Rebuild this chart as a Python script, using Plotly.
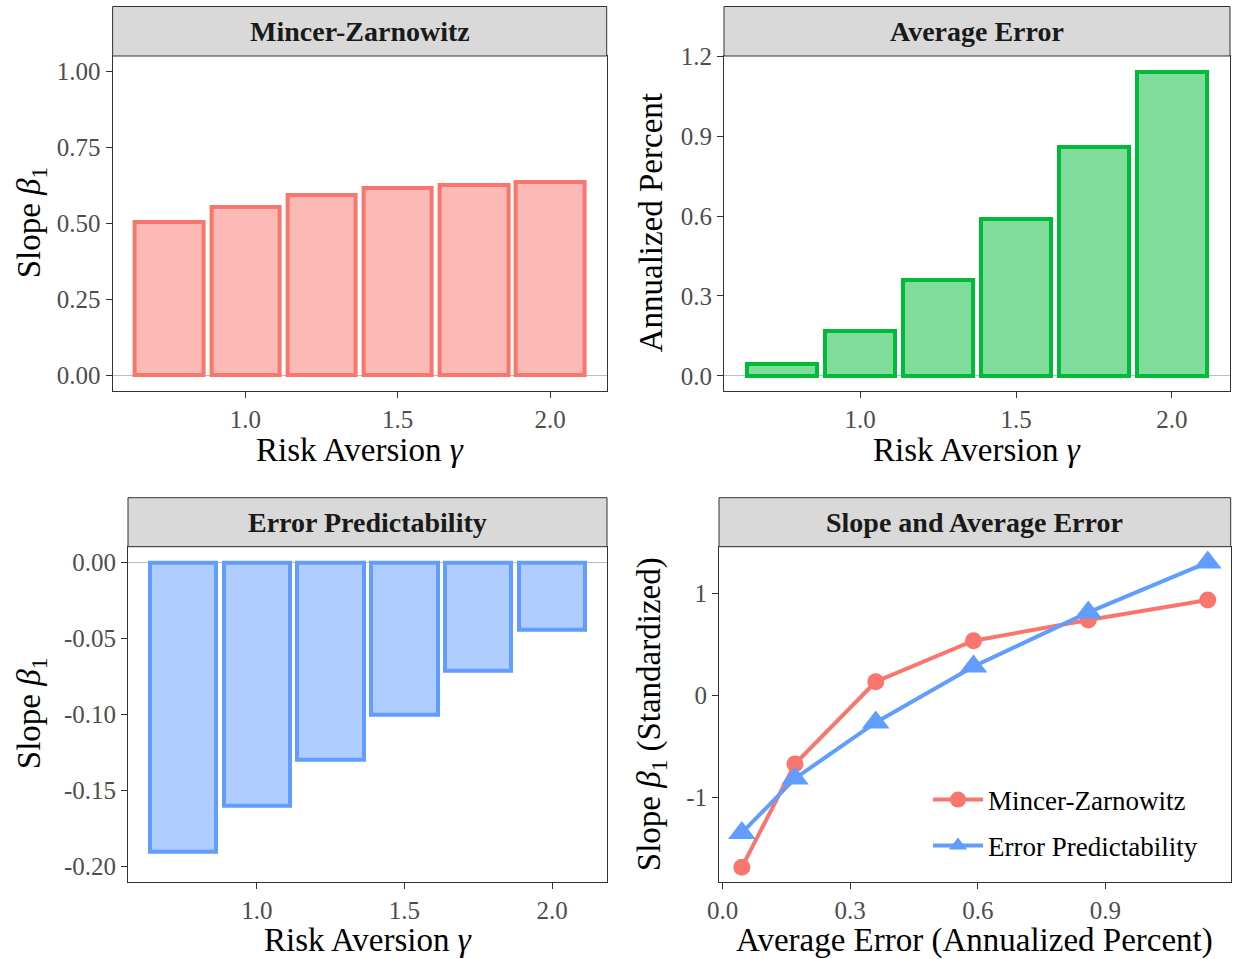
import plotly.graph_objects as go

# ---- data ----------------------------------------------------------------
gamma = [0.75, 1.0, 1.25, 1.5, 1.75, 2.0]                     # risk aversion
mz_slope = [0.506, 0.555, 0.594, 0.616, 0.626, 0.635]         # Mincer-Zarnowitz slope
avg_error = [0.045, 0.170, 0.360, 0.590, 0.860, 1.141]        # annualized percent
ep_slope = [-0.190, -0.160, -0.130, -0.100, -0.071, -0.044]   # error predictability slope
mz_std = [-1.686, -0.672, 0.133, 0.535, 0.738, 0.934]         # standardized MZ slope
ep_std = [-1.349, -0.815, -0.266, 0.282, 0.813, 1.303]        # standardized EP slope

gamma_ticks = [1.0, 1.5, 2.0]
gamma_labels = ["1.0", "1.5", "2.0"]
mz_ticks = [0.0, 0.25, 0.5, 0.75, 1.0]
mz_labels = ["0.00", "0.25", "0.50", "0.75", "1.00"]
err_ticks = [0.0, 0.3, 0.6, 0.9, 1.2]
err_labels = ["0.0", "0.3", "0.6", "0.9", "1.2"]
ep_ticks = [0.0, -0.05, -0.10, -0.15, -0.20]
ep_labels = ["0.00", "-0.05", "-0.10", "-0.15", "-0.20"]
std_ticks = [-1, 0, 1]
std_labels = ["-1", "0", "1"]
ae_ticks = [0.0, 0.3, 0.6, 0.9]
ae_labels = ["0.0", "0.3", "0.6", "0.9"]

panel_titles = ["Mincer-Zarnowitz", "Average Error", "Error Predictability",
                "Slope and Average Error"]
x_titles = ["Risk Aversion <i>γ</i>", "Risk Aversion <i>γ</i>",
            "Risk Aversion <i>γ</i>", "Average Error (Annualized Percent)"]
y_titles = ["Slope <i>β</i><sub>1</sub>", "Annualized Percent",
            "Slope <i>β</i><sub>1</sub>", "Slope <i>β</i><sub>1</sub> (Standardized)"]

# ---- styling -------------------------------------------------------------
RED, GREEN, BLUE = "#F8766D", "#00BA38", "#619CFF"
RED_FILL = "rgba(248,118,109,0.5)"
GREEN_FILL = "rgba(0,186,56,0.5)"
BLUE_FILL = "rgba(97,156,255,0.5)"
FONT = "Liberation Serif"
W, H = 1236, 959
BAR_W = 0.225


def xd(left, right):
    return [left / W, right / W]


def yd(top, bottom):
    return [1 - bottom / H, 1 - top / H]


# panel boxes in pixels: (left, right, strip_top, plot_top, plot_bottom)
panels = [
    (112.6, 606.7, 6.5, 56.0, 390.7),
    (724.0, 1230.0, 6.5, 56.0, 390.7),
    (128.0, 607.0, 497.7, 546.7, 881.7),
    (719.0, 1230.7, 497.7, 546.7, 881.7),
]
# axis-title placement in pixels: (x-title centre y, y-title centre x)
title_pos = [(450, 31), (450, 651), (940, 31), (940, 651)]

fig = go.Figure()

fig.add_trace(go.Bar(x=gamma, y=mz_slope, width=BAR_W, marker=dict(
    color=RED_FILL, line=dict(color=RED, width=4)), xaxis="x", yaxis="y",
    showlegend=False))
fig.add_trace(go.Bar(x=gamma, y=avg_error, width=BAR_W, marker=dict(
    color=GREEN_FILL, line=dict(color=GREEN, width=4)), xaxis="x2", yaxis="y2",
    showlegend=False))
fig.add_trace(go.Bar(x=gamma, y=ep_slope, width=BAR_W, marker=dict(
    color=BLUE_FILL, line=dict(color=BLUE, width=4)), xaxis="x3", yaxis="y3",
    showlegend=False))

fig.add_trace(go.Scatter(x=avg_error, y=mz_std, mode="lines+markers",
                         name="Mincer-Zarnowitz",
                         line=dict(color=RED, width=4),
                         marker=dict(symbol="circle", size=17, color=RED),
                         xaxis="x4", yaxis="y4", legend="legend"))
fig.add_trace(go.Scatter(x=avg_error, y=ep_std, mode="lines+markers",
                         name="Error Predictability",
                         line=dict(color=BLUE, width=4),
                         marker=dict(symbol="triangle-up", size=24, color=BLUE),
                         xaxis="x4", yaxis="y4", legend="legend2"))

axis_common = dict(
    showline=True, mirror=True, linecolor="#333333", linewidth=1,
    ticks="outside", ticklen=6, tickcolor="#333333", tickwidth=1,
    showgrid=False, zeroline=False, automargin=False,
    tickfont=dict(family=FONT, size=25, color="#4D4D4D"),
)
zero = dict(zeroline=True, zerolinecolor="#BEBEBE", zerolinewidth=1)

layout = dict(
    template="none",
    width=W, height=H, margin=dict(l=0, r=0, t=0, b=0, autoexpand=False),
    paper_bgcolor="white", plot_bgcolor="white",
    font=dict(family=FONT, color="#000000"),
    bargap=0,
)

xr_bar = [0.564, 2.186]
layout["xaxis"] = dict(axis_common, domain=xd(*panels[0][:2]), range=xr_bar,
                       tickvals=gamma_ticks, ticktext=gamma_labels, anchor="y")
layout["yaxis"] = dict(axis_common, **zero, domain=yd(panels[0][3], panels[0][4]),
                       range=[-0.05, 1.05], tickvals=mz_ticks, ticktext=mz_labels,
                       anchor="x")
layout["xaxis2"] = dict(axis_common, domain=xd(*panels[1][:2]), range=xr_bar,
                        tickvals=gamma_ticks, ticktext=gamma_labels, anchor="y2")
layout["yaxis2"] = dict(axis_common, **zero, domain=yd(panels[1][3], panels[1][4]),
                        range=[-0.056, 1.202], tickvals=err_ticks, ticktext=err_labels,
                        anchor="x2")
layout["xaxis3"] = dict(axis_common, domain=xd(*panels[2][:2]), range=xr_bar,
                        tickvals=gamma_ticks, ticktext=gamma_labels, anchor="y3")
layout["yaxis3"] = dict(axis_common, **zero, domain=yd(panels[2][3], panels[2][4]),
                        range=[-0.2099, 0.0103], tickvals=ep_ticks, ticktext=ep_labels,
                        anchor="x3")
layout["xaxis4"] = dict(axis_common, domain=xd(*panels[3][:2]), range=[-0.0087, 1.195],
                        tickvals=ae_ticks, ticktext=ae_labels, anchor="y4")
layout["yaxis4"] = dict(axis_common, domain=yd(panels[3][3], panels[3][4]),
                        range=[-1.827, 1.457], tickvals=std_ticks, ticktext=std_labels,
                        anchor="x4")

legend_common = dict(
    xanchor="left", yanchor="middle", bgcolor="rgba(0,0,0,0)",
    font=dict(family=FONT, size=27, color="#000000"),
    itemsizing="trace", itemwidth=50,
)
layout["legend"] = dict(legend_common, x=928 / W, y=1 - 800 / H)
layout["legend2"] = dict(legend_common, x=928 / W, y=1 - 846 / H)

# facet strips and axis titles
shapes, annotations = [], []
for (left, right, s_top, p_top, p_bot), title, xt, yt, (xt_y, yt_x) in zip(
        panels, panel_titles, x_titles, y_titles, title_pos):
    shapes.append(dict(type="rect", xref="paper", yref="paper",
                       x0=left / W, x1=right / W, y0=1 - p_top / H, y1=1 - s_top / H,
                       fillcolor="#D9D9D9", line=dict(color="#333333", width=1),
                       layer="above"))
    annotations.append(dict(xref="paper", yref="paper",
                            x=(left + right) / 2 / W, y=1 - (s_top + p_top) / 2 / H,
                            text=f"<b>{title}</b>", showarrow=False,
                            xanchor="center", yanchor="middle",
                            font=dict(family=FONT, size=28, color="#1A1A1A")))
    annotations.append(dict(xref="paper", yref="paper",
                            x=(left + right) / 2 / W, y=1 - xt_y / H,
                            text=xt, showarrow=False,
                            xanchor="center", yanchor="middle",
                            font=dict(family=FONT, size=33, color="#000000")))
    annotations.append(dict(xref="paper", yref="paper",
                            x=yt_x / W, y=1 - (p_top + p_bot) / 2 / H,
                            text=yt, showarrow=False, textangle=-90,
                            xanchor="center", yanchor="middle",
                            font=dict(family=FONT, size=33, color="#000000")))
layout["shapes"] = shapes
layout["annotations"] = annotations

fig.update_layout(**layout)
fig.write_html("out.html")
